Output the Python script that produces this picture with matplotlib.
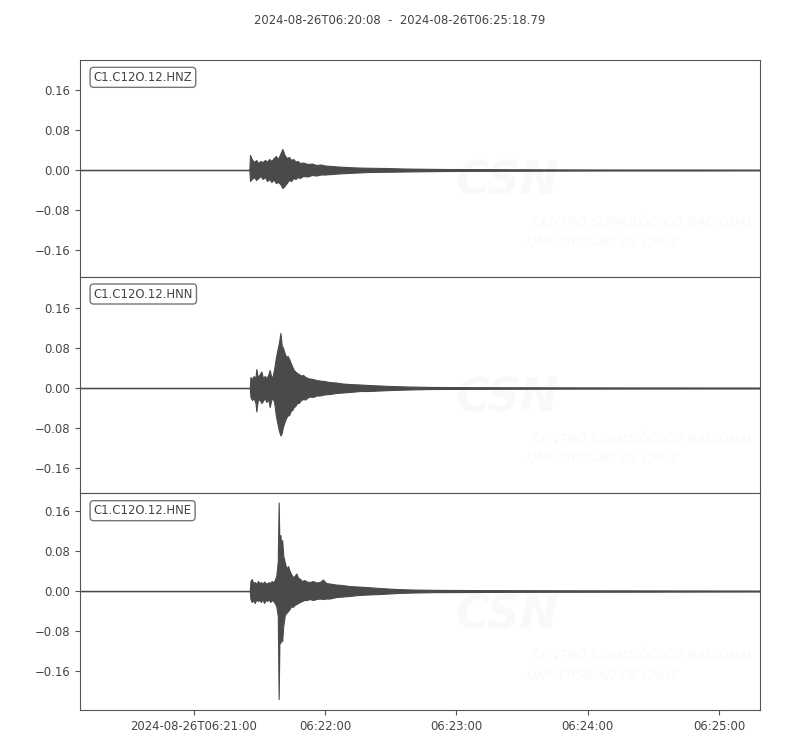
import datetime as dt
import matplotlib
matplotlib.use("Agg")
import matplotlib.pyplot as plt
import matplotlib.dates as mdates

# ---------------- data (seconds relative to 2024-08-26T06:21:00) ----------------
T_REF = dt.datetime(2024, 8, 26, 6, 21, 0)
T_START = -52.0          # 06:20:08
T_END = 258.79           # 06:25:18.79

CHANNELS = ["C1.C12O.12.HNZ", "C1.C12O.12.HNN", "C1.C12O.12.HNE"]

hnz_t = [-52.0, 25.4, 25.7, 26.5, 27.5, 28.5, 29.5, 30.5, 31.5, 32.5, 33.5, 34.5, 35.5,
         36.5, 37.5, 38.5, 39.5, 40.5, 41.5, 42.5, 43.5, 44.5, 45.5, 46.5, 47.5, 48.5,
         50, 52, 54, 56, 58, 60, 63, 66, 70, 75, 80, 88, 96, 105, 115, 130, 150, 175,
         200, 230, 258.79]
hnz_up = [0, 0, 0.030, 0.022, 0.016, 0.020, 0.014, 0.018, 0.016, 0.020, 0.017, 0.022,
          0.018, 0.024, 0.028, 0.022, 0.032, 0.042, 0.030, 0.024, 0.026, 0.020, 0.022,
          0.017, 0.018, 0.014, 0.015, 0.012, 0.013, 0.010, 0.011, 0.009, 0.008, 0.007,
          0.006, 0.005, 0.0045, 0.004, 0.003, 0.0025, 0.002, 0.0018, 0.0014, 0.0010,
          0.0008, 0.0008, 0.0006]
hnz_lo = [0, 0, -0.022, -0.018, -0.014, -0.020, -0.016, -0.012, -0.018, -0.014, -0.022,
          -0.018, -0.024, -0.019, -0.026, -0.024, -0.028, -0.036, -0.032, -0.026, -0.020,
          -0.022, -0.016, -0.018, -0.014, -0.016, -0.012, -0.013, -0.010, -0.011, -0.009,
          -0.009, -0.008, -0.007, -0.006, -0.005, -0.004, -0.0035, -0.003, -0.0025,
          -0.002, -0.0016, -0.0014, -0.0010, -0.0008, -0.0008, -0.0006]

hnn_t = [-52.0, 25.6, 25.9, 26.6, 27.4, 28.2, 28.6, 29.2, 29.9, 30.9, 31.6, 32.4, 33.2,
         34.0, 34.7, 35.4, 36.1, 36.8, 37.5, 38.2, 38.9, 39.6, 40.2, 40.8, 41.5, 42.2,
         42.9, 43.6, 44.3, 45.0, 45.7, 46.4, 47.2, 48.0, 49.0, 50.0, 51.0, 52.0, 53.0,
         54.5, 56.0, 57.6, 59.5, 62.0, 65, 68, 71, 76, 80, 85, 90, 98, 108, 120, 140,
         170, 200, 230, 258.79]
hnn_up = [0, 0, 0.022, 0.018, 0.024, 0.020, 0.038, 0.022, 0.026, 0.033, 0.020, 0.024,
          0.020, 0.026, 0.036, 0.022, 0.024, 0.040, 0.060, 0.076, 0.090, 0.110, 0.085,
          0.080, 0.070, 0.062, 0.064, 0.058, 0.050, 0.043, 0.036, 0.033, 0.030, 0.028,
          0.025, 0.026, 0.022, 0.020, 0.019, 0.018, 0.016, 0.015, 0.014, 0.012, 0.011,
          0.009, 0.008, 0.007, 0.006, 0.005, 0.004, 0.003, 0.0022, 0.0018, 0.0015,
          0.0012, 0.0010, 0.0009, 0.0008]
hnn_lo = [0, 0, -0.018, -0.024, -0.020, -0.030, -0.047, -0.026, -0.022, -0.030, -0.026,
          -0.020, -0.028, -0.022, -0.038, -0.024, -0.020, -0.030, -0.055, -0.070, -0.085,
          -0.095, -0.090, -0.077, -0.068, -0.060, -0.055, -0.054, -0.046, -0.044, -0.038,
          -0.036, -0.030, -0.030, -0.024, -0.022, -0.023, -0.019, -0.017, -0.018, -0.015,
          -0.015, -0.013, -0.012, -0.010, -0.009, -0.008, -0.006, -0.006, -0.005, -0.004,
          -0.003, -0.002, -0.0018, -0.0015, -0.0012, -0.0010, -0.0009, -0.0008]

hne_t = [-52.0, 25.6, 25.9, 26.5, 27.2, 27.9, 28.6, 29.3, 30.0, 30.7, 31.4, 32.1, 32.8,
         33.5, 34.2, 34.9, 35.6, 36.3, 37.0, 37.7, 38.4, 38.8, 39.2, 39.6, 40.0, 40.4,
         40.9, 41.6, 42.3, 43.1, 43.8, 44.5, 45.2, 46.0, 46.9, 47.7, 48.4, 49.5, 50.5,
         51.6, 53, 54.5, 56, 57.6, 59.0, 60.5, 62.1, 65, 68, 71, 75, 79, 85, 92.8, 100,
         110, 125, 145, 170, 200, 230, 258.79]
hne_up = [0, 0, 0.020, 0.024, 0.016, 0.018, 0.014, 0.020, 0.016, 0.018, 0.014, 0.019,
          0.016, 0.015, 0.018, 0.016, 0.020, 0.017, 0.022, 0.030, 0.060, 0.177, 0.080,
          0.112, 0.090, 0.102, 0.070, 0.058, 0.045, 0.050, 0.040, 0.034, 0.028, 0.030,
          0.035, 0.026, 0.025, 0.020, 0.022, 0.019, 0.018, 0.020, 0.017, 0.018, 0.023,
          0.016, 0.015, 0.013, 0.012, 0.010, 0.009, 0.008, 0.006, 0.004, 0.003, 0.0024,
          0.002, 0.0017, 0.0014, 0.0012, 0.0010, 0.0008]
hne_lo = [0, 0, -0.016, -0.022, -0.018, -0.024, -0.016, -0.020, -0.018, -0.022, -0.016,
          -0.024, -0.018, -0.020, -0.016, -0.022, -0.018, -0.020, -0.024, -0.030, -0.050,
          -0.216, -0.080, -0.104, -0.094, -0.100, -0.070, -0.048, -0.044, -0.040, -0.036,
          -0.030, -0.032, -0.028, -0.026, -0.024, -0.022, -0.020, -0.018, -0.018, -0.016,
          -0.018, -0.016, -0.015, -0.016, -0.015, -0.015, -0.012, -0.011, -0.010, -0.008,
          -0.007, -0.006, -0.004, -0.003, -0.0022, -0.002, -0.0016, -0.0014, -0.0012,
          -0.0010, -0.0008]

TRACES = [(hnz_t, hnz_up, hnz_lo), (hnn_t, hnn_up, hnn_lo), (hne_t, hne_up, hne_lo)]
YLIMS = [(-0.2133, 0.22), (-0.2106, 0.2226), (-0.238, 0.1954)]
YTICKS = [-0.16, -0.08, 0.0, 0.08, 0.16]
YTICK_LABELS = ["\u22120.16", "\u22120.08", "0.00", "0.08", "0.16"]

XTICK_SECONDS = [0, 60, 120, 180, 240]
XTICK_LABELS = ["2024-08-26T06:21:00", "06:22:00", "06:23:00", "06:24:00", "06:25:00"]
TITLE = "2024-08-26T06:20:08  -  2024-08-26T06:25:18.79"


def to_num(secs):
    return mdates.date2num([T_REF + dt.timedelta(seconds=float(s)) for s in secs])


TRACE_COLOR = "#4a4a4a"
TEXT_COLOR = "#444444"
SPINE_COLOR = "#555555"
WM_COLOR = "#f9f9f9"

fig = plt.figure(figsize=(8, 7.5), dpi=100)
left, right = 0.10, 0.95
top, bottom = 0.92, 0.0533
h = (top - bottom) / 3.0
axes = []
for i in range(3):
    ax = fig.add_axes([left, top - (i + 1) * h, right - left, h])
    axes.append(ax)

xlim = to_num([T_START, T_END])
for i, ax in enumerate(axes):
    t, up, lo = TRACES[i]
    x = to_num(t)
    # watermark (very faint)
    ax.text(0.552, 0.435, "CSN", transform=ax.transAxes, fontsize=33, fontweight="bold",
            fontstyle="italic", color=WM_COLOR, ha="left", va="center", zorder=0)
    ax.text(0.664, 0.250, "CENTRO SISMOLÓGICO NACIONAL", transform=ax.transAxes,
            fontsize=9.4, fontstyle="italic", color=WM_COLOR, ha="left", va="center", zorder=0)
    ax.text(0.658, 0.160, "UNIVERSIDAD DE CHILE", transform=ax.transAxes,
            fontsize=9.3, fontstyle="italic", color=WM_COLOR, ha="left", va="center", zorder=0)

    ax.fill_between(x, lo, up, color=TRACE_COLOR, lw=0.8, edgecolor=TRACE_COLOR, zorder=2)
    ax.plot(xlim, [0, 0], color=TRACE_COLOR, lw=1.0, zorder=2)

    ax.set_xlim(xlim)
    ax.set_ylim(*YLIMS[i])
    ax.set_yticks(YTICKS)
    ax.set_yticklabels(YTICK_LABELS)
    ax.tick_params(axis="y", labelsize=8.4, colors=SPINE_COLOR, labelcolor=TEXT_COLOR)
    for sp in ax.spines.values():
        sp.set_color(SPINE_COLOR)
    ax.text(0.02, 0.95, CHANNELS[i], transform=ax.transAxes, va="top", ha="left",
            fontsize=8.4, color=TEXT_COLOR, zorder=5,
            bbox=dict(boxstyle="round", fc="w", ec="#666666", alpha=0.9))
    ax.set_xticks(to_num(XTICK_SECONDS))
    if i < 2:
        ax.tick_params(axis="x", bottom=False, labelbottom=False)
    else:
        ax.set_xticklabels(XTICK_LABELS)
        ax.tick_params(axis="x", labelsize=8.4, colors=SPINE_COLOR, labelcolor=TEXT_COLOR)

fig.text(0.5, 1 - 20 / 750, TITLE, ha="center", va="center", fontsize=8.4, color=TEXT_COLOR)

fig.savefig("out.png", dpi=100)
